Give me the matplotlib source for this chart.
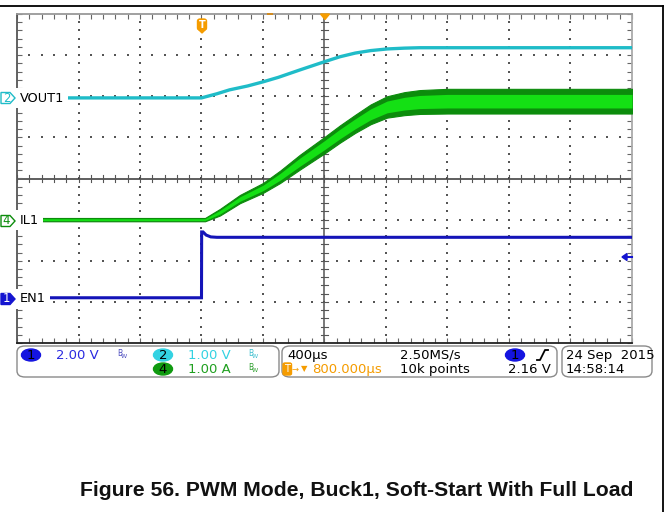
import numpy as np
import matplotlib
matplotlib.use("Agg")
import matplotlib.pyplot as plt
from matplotlib.patches import Polygon, FancyBboxPatch, Ellipse, Rectangle
from matplotlib.lines import Line2D

# ---------------- data ----------------
# time in microseconds relative to screen centre, 400 us/div
en_t = [-2000, -800, -799, -790, -770, -740, -700, 2000]
en_v = [0.0, 0.0, 3.2, 3.2, 3.05, 2.96, 2.94, 2.94]          # EN1, V

vout_t = [-2000, -800, -700, -618, -500, -400, -300, -160, -80, 0, 100, 200, 300, 407, 520, 620, 800, 2000]
vout_v = [0.0, 0.0, 0.10, 0.195, 0.29, 0.39, 0.50, 0.68, 0.78, 0.88, 1.0, 1.09, 1.15, 1.19, 1.21, 1.22, 1.22, 1.22]  # VOUT1, V

il_t = [-2000, -777, -680, -550, -400, -289, -159, 0, 100, 200, 300, 407, 520, 620, 800, 2000]
il_c = [0.0, 0.0, 0.18, 0.50, 0.77, 1.04, 1.40, 1.81, 2.08, 2.33, 2.56, 2.74, 2.82, 2.86, 2.88, 2.88]   # IL1 centre, A
il_hw = [0.04, 0.04, 0.08, 0.10, 0.12, 0.15, 0.18, 0.20, 0.21, 0.22, 0.24, 0.26, 0.28, 0.29, 0.30, 0.30]  # ripple half width, A

# channel scale (units/div) and ground offset (div)
ch1_scale, ch1_off = 2.0, -2.9
ch2_scale, ch2_off = 1.0, 1.96
ch4_scale, ch4_off = 1.0, -1.0

caption = "Figure 56. PWM Mode, Buck1, Soft-Start With Full Load"

# ---------------- figure ----------------
W, H = 668, 512
fig = plt.figure(figsize=(W / 100, H / 100), dpi=100)
fig.patch.set_facecolor("white")

def P(x, y):
    return (x / W, 1 - y / H)

ax = fig.add_axes([17 / W, 1 - 343 / H, 615 / W, 329 / H])
ax.set_xlim(-2000, 2000)
ax.set_ylim(-4, 4)

# grid dots
xmin = np.arange(-2000, 2001, 80)
ymin = np.arange(-4, 4.01, 0.2)
for i in range(1, 10):
    if i == 5:
        continue
    xv = -2000 + i * 400
    ax.scatter(np.full(len(ymin) - 2, xv), ymin[1:-1], s=1.2, marker="s", color="#555555", lw=0, zorder=1)
for j in range(-3, 4):
    if j == 0:
        continue
    ax.scatter(xmin[1:-1], np.full(len(xmin) - 2, j), s=1.2, marker="s", color="#555555", lw=0, zorder=1)

# centre cross with ticks
ax.axhline(0, color="#333333", lw=1.1, zorder=1.5)
ax.axvline(0, color="#555555", lw=1.1, zorder=1.5)
for xv in xmin:
    ax.plot([xv, xv], [-0.08, 0.08], color="#555555", lw=0.8, zorder=1.5)
for yv in ymin:
    ax.plot([-22, 22], [yv, yv], color="#555555", lw=0.8, zorder=1.5)

# edge ticks
ax.set_xticks(xmin)
ax.set_yticks(ymin)
ax.tick_params(which="both", direction="in", length=3.5, width=0.8, colors="#666666",
               top=True, right=True, labelbottom=False, labelleft=False)
for s, c in [("left", "#555555"), ("bottom", "#222222"), ("top", "#999999"), ("right", "#aaaaaa")]:
    ax.spines[s].set_color(c)
    ax.spines[s].set_linewidth(1.3)

# traces
il_c_a = np.array(il_c)
il_hw_a = np.array(il_hw)
ax.fill_between(il_t, (il_c_a - il_hw_a) / ch4_scale + ch4_off, (il_c_a + il_hw_a) / ch4_scale + ch4_off,
                color="#0c8c0c", lw=0.8, zorder=3)
ax.fill_between(il_t, (il_c_a - 0.55 * il_hw_a) / ch4_scale + ch4_off, (il_c_a + 0.55 * il_hw_a) / ch4_scale + ch4_off,
                color="#14e014", lw=0, zorder=3.2)
ax.plot(vout_t, np.array(vout_v) / ch2_scale + ch2_off, color="#1fbcc8", lw=2.4, zorder=3.5)
ax.plot(en_t, np.array(en_v) / ch1_scale + ch1_off, color="#1414b8", lw=2.2, zorder=3.5,
        solid_joinstyle="miter")

# trace labels (cover trace start like the scope does)
def trace_label(text, y):
    fig.text(*P(20, y), text, fontsize=9.3, color="black", va="center", ha="left", zorder=10,
             bbox=dict(fc="white", ec="none", pad=2.6))

trace_label("VOUT1", 98)
trace_label("IL1", 220)
trace_label("EN1", 299)

def ch_marker(y, num, col, filled):
    pts = [P(1, y - 5.5), P(10, y - 5.5), P(15, y), P(10, y + 5.5), P(1, y + 5.5)]
    fig.patches.append(Polygon(pts, closed=True, transform=fig.transFigure,
                               fc=col if filled else "white", ec=col, lw=1.0, zorder=11))
    fig.text(*P(6.5, y), num, fontsize=8.5, color="white" if filled else col,
             ha="center", va="center", zorder=12)

ch_marker(98, "2", "#1fbcc8", False)
ch_marker(221, "4", "#0c8c0c", False)
ch_marker(299, "1", "#1414d0", True)

orange = "#f59c00"
# trigger position marker "T"
fig.patches.append(FancyBboxPatch(P(197.5, 30), 9 / W, 11 / H, boxstyle="round,pad=0,rounding_size=0.004",
                                  transform=fig.transFigure, fc=orange, ec=orange, zorder=11))
fig.patches.append(Polygon([P(198, 29), P(206, 29), P(202, 33)], transform=fig.transFigure,
                           fc=orange, ec=orange, zorder=11))
fig.text(*P(202, 24.5), "T", fontsize=7, color="white", fontweight="bold", ha="center", va="center", zorder=12)
# centre triangle and small marker at top
fig.patches.append(Polygon([P(320.5, 14), P(329.5, 14), P(325, 19.5)], transform=fig.transFigure,
                           fc=orange, ec=orange, zorder=11))
fig.patches.append(Rectangle(P(267, 14.5), 6 / W, 2 / H, transform=fig.transFigure, fc="#d08a20", ec="none", zorder=11))

# trigger level arrow (right)
fig.patches.append(Polygon([P(622, 257), P(627, 253.5), P(627, 260.5)], transform=fig.transFigure,
                           fc="#1414d0", ec="#1414d0", zorder=11))
fig.lines.append(Line2D([626 / W, 632 / W], [1 - 257 / H] * 2, transform=fig.transFigure, color="#1414d0", lw=1.5))

# outer frame lines of document
fig.lines.append(Line2D([0, 663 / W], [1 - 6 / H] * 2, transform=fig.transFigure, color="black", lw=1.3))
fig.lines.append(Line2D([663 / W] * 2, [1 - 6 / H, 0], transform=fig.transFigure, color="black", lw=1.3))

# ---------------- info panel ----------------
def box(x0, x1, y0=346, y1=377):
    fig.patches.append(FancyBboxPatch(P(x0, y1), (x1 - x0) / W, (y1 - y0) / H,
                                      boxstyle="round,pad=0,rounding_size=0.012",
                                      transform=fig.transFigure, fc="white", ec="#8a8a8a", lw=1.0, zorder=5))

box(17, 279)
box(282, 557)
box(562, 652)

r1, r2 = 355, 369
fs = 9.5

def pill(x, y, col, num):
    fig.patches.append(Ellipse(P(x, y), 19 / W, 12 / H, transform=fig.transFigure, fc=col, ec=col, zorder=6))
    fig.text(*P(x, y + 0.5), num, fontsize=fs, color="black", ha="center", va="center", zorder=7)

def t(x, y, s, col="black", ha="left", size=fs):
    fig.text(*P(x, y + 0.5), s, fontsize=size, color=col, ha=ha, va="center", zorder=7)

def bw(x, y, col):
    fig.text(*P(x, y - 2), "B", fontsize=5.5, color=col, ha="left", va="center", zorder=7)
    fig.text(*P(x + 4, y + 1.5), "W", fontsize=4.5, color=col, ha="left", va="center", zorder=7)

blue_t, cyan_t, green_t = "#2a2ae0", "#33d2e2", "#20a020"
pill(31, r1, "#1414e0", "1")
t(56, r1, "2.00 V", blue_t)
bw(117, r1, "#5050c0")
pill(163, r1, "#33d2e2", "2")
t(188, r1, "1.00 V", cyan_t)
bw(248, r1, "#40c0d0")
pill(163, r2, "#109a10", "4")
t(188, r2, "1.00 A", green_t)
bw(248, r2, "#30a030")

t(287, r1, "400µs")
t(400, r1, "2.50MS/s")
pill(515, r1, "#1414e0", "1")
fig.lines.append(Line2D([537 / W, 540 / W, 545 / W, 548 / W], [1 - 360 / H, 1 - 360 / H, 1 - 350 / H, 1 - 350 / H],
                        transform=fig.transFigure, color="black", lw=1.3, zorder=7))
fig.patches.append(FancyBboxPatch(P(283, 375), 8.5 / W, 12 / H, boxstyle="round,pad=0,rounding_size=0.003",
                                  transform=fig.transFigure, fc=orange, ec=orange, zorder=6))
t(287.2, r2, "T", "white", ha="center", size=7)
t(292, r2, "→", orange, size=6)
t(301, r2 - 0.5, "▼", orange, size=6)
t(312, r2, "800.000µs", orange)
t(400, r2, "10k points")
t(551, r2, "2.16 V", ha="right")
t(566, r1, "24 Sep  2015")
t(566, r2, "14:58:14")

# caption
fig.text(*P(357, 490), caption, fontsize=15.2, fontweight="bold", family="Liberation Sans",
         ha="center", va="center", color="#111111")

fig.savefig("out.png", dpi=100)
